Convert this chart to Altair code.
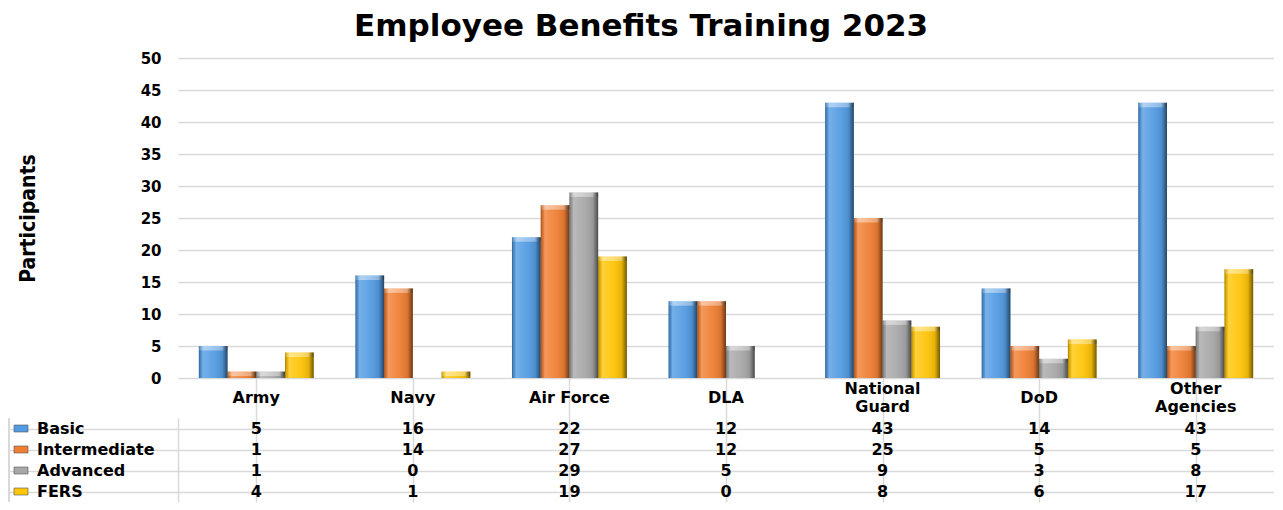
import altair as alt
import pandas as pd

categories = ["Army", "Navy", "Air Force", "DLA", "National Guard", "DoD", "Other Agencies"]
series = ["Basic", "Intermediate", "Advanced", "FERS"]
basic = [5, 16, 22, 12, 43, 14, 43]
intermediate = [1, 14, 27, 12, 25, 5, 5]
advanced = [1, 0, 29, 5, 9, 3, 8]
fers = [4, 1, 19, 0, 8, 6, 17]
colors = ["#539CE3", "#F07F33", "#A8A8A8", "#FFC508"]
y_ticks = list(range(0, 51, 5))

rows = []
for s, vals in zip(series, [basic, intermediate, advanced, fers]):
    for c, v in zip(categories, vals):
        rows.append({"category": c, "series": s, "value": v})
df = pd.DataFrame(rows)
hdr = pd.DataFrame({"category": categories,
                    "label": [c.replace(" ", "\n") if len(c) > 10 else c for c in categories]})
sdf = pd.DataFrame({"series": series})

FONT = "DejaVu Sans"
GRID = "#d9d9d9"
W = 1096
H_BARS = 320
H_HDR = 40
H_ROWS = 84
LEG_W = 169
TXT = 16

color = alt.Color("series:N", scale=alt.Scale(domain=series, range=colors), legend=None)

grad = {"gradient": "linear", "x1": 0, "y1": 0, "x2": 1, "y2": 0,
        "stops": [{"offset": 0, "color": "rgba(0,0,0,0.35)"},
                  {"offset": 0.06, "color": "rgba(0,0,0,0.12)"},
                  {"offset": 0.14, "color": "rgba(255,255,255,0.20)"},
                  {"offset": 0.5, "color": "rgba(255,255,255,0.06)"},
                  {"offset": 0.82, "color": "rgba(0,0,0,0.10)"},
                  {"offset": 1, "color": "rgba(0,0,0,0.55)"}]}
bevel = {"gradient": "linear", "x1": 0, "y1": 0, "x2": 1, "y2": 0,
         "stops": [{"offset": 0, "color": "rgba(255,255,255,0.10)"},
                   {"offset": 0.2, "color": "rgba(255,255,255,0.45)"},
                   {"offset": 0.8, "color": "rgba(255,255,255,0.35)"},
                   {"offset": 1, "color": "rgba(0,0,0,0.25)"}]}

x_bar = alt.X("category:N", sort=categories, axis=None,
              scale=alt.Scale(paddingInner=0.266, paddingOuter=0.133))
x_off = alt.XOffset("series:N", sort=series,
                    scale=alt.Scale(domain=series, paddingInner=0, paddingOuter=0))
y_scale = alt.Scale(domain=[0, 50], nice=False)
y_axis = alt.Axis(values=y_ticks, title="Participants",
                  titleFont="DejaVu Sans Condensed, DejaVu Sans, sans-serif",
                  titleFontSize=21, titleFontWeight="bold", titleColor="black",
                  titleAngle=270, titleX=-150, titleY=H_BARS / 2,
                  titleBaseline="middle", titleAlign="center",
                  labelFont=FONT, labelFontSize=15, labelFontWeight="bold",
                  labelColor="black", labelPadding=17, ticks=False, domain=False,
                  grid=True, gridColor=GRID, gridWidth=1.5)
y_val = alt.Y("value:Q", scale=y_scale, axis=y_axis)

base = alt.Chart(df).encode(x=x_bar, xOffset=x_off, y=y_val)
bars = base.mark_bar().encode(color=color)
shade = base.mark_bar(fill=grad)
top = alt.Chart(df).transform_filter("datum.value > 0").transform_calculate(
    cap="max(datum.value - 0.7, 0)"
).mark_bar(fill=bevel).encode(x=x_bar, xOffset=x_off, y=y_val, y2="cap:Q")
chart_a = alt.layer(bars, shade, top).properties(width=W, height=H_BARS)

tab_x = alt.X("category:N", sort=categories,
              scale=alt.Scale(paddingInner=0, paddingOuter=0),
              axis=alt.Axis(title=None, labels=False, ticks=False, domain=False,
                            grid=True, gridColor=GRID, gridWidth=1.5, bandPosition=0))

hdr_text = dict(font=FONT, fontSize=TXT, fontWeight="bold", color="black",
                lineBreak="\n", lineHeight=18, baseline="middle")
hdr_one = alt.Chart(hdr).transform_filter("length(datum.category) <= 10").mark_text(
    **hdr_text).encode(x=tab_x, text="label:N")
hdr_two = alt.Chart(hdr).transform_filter("length(datum.category) > 10").mark_text(
    dy=-9, **hdr_text).encode(x=tab_x, text="label:N")
chart_h = alt.layer(hdr_one, hdr_two).properties(width=W, height=H_HDR)

tab_y = alt.Y("series:N", sort=series,
              scale=alt.Scale(paddingInner=0, paddingOuter=0),
              axis=alt.Axis(title=None, labels=False, ticks=True, tickSize=LEG_W,
                            tickColor=GRID, tickWidth=1.5, grid=True, gridColor=GRID,
                            gridWidth=1.5, domain=True, domainColor=GRID, domainWidth=1.5,
                            bandPosition=0))

cells = alt.Chart(df).mark_text(
    font=FONT, fontSize=TXT, fontWeight="bold", color="black", baseline="middle"
).encode(x=tab_x, y=tab_y, text="value:Q")
names = alt.Chart(sdf).mark_text(
    font=FONT, fontSize=TXT, fontWeight="bold", color="black", align="left", baseline="middle"
).encode(x=alt.value(-141), y=tab_y, text="series:N")
swatch = alt.Chart(sdf).mark_point(
    shape="M-1,-0.5H1V0.5H-1Z", filled=True, size=196, opacity=1, stroke="#555", strokeWidth=0.6
).encode(x=alt.value(-157), y=tab_y, color=color)
border = alt.Chart(sdf).mark_rule(color=GRID, strokeWidth=1.5).encode(
    x=alt.value(-LEG_W), y=alt.value(0), y2=alt.value(H_ROWS))
chart_r = alt.layer(cells, names, swatch, border).properties(width=W, height=H_ROWS)

chart = alt.vconcat(chart_a, chart_h, chart_r, spacing=0, bounds="flush").resolve_scale(
    x="independent", y="independent", color="shared"
).properties(
    title=alt.TitleParams("Employee Benefits Training 2023", font=FONT, fontSize=31,
                          fontWeight="bold", color="black", anchor="middle", offset=8),
    padding={"top": 3, "left": 0, "right": 0, "bottom": 0},
).configure_view(stroke=None)

chart.save("out.html", embed_options={"renderer": "svg", "actions": False})
